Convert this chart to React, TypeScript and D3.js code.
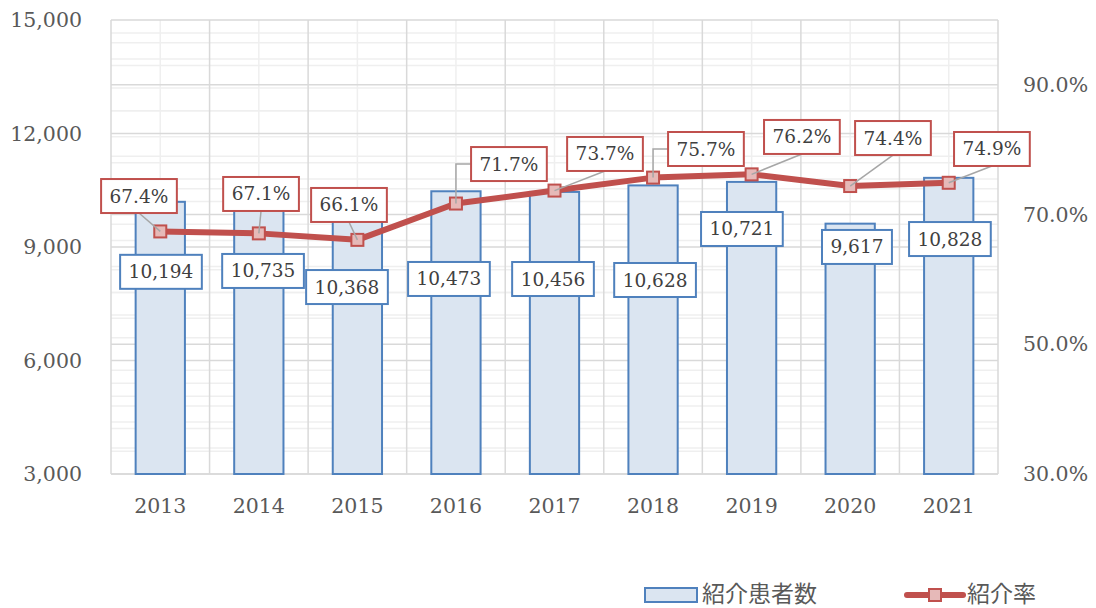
import React from "react";
import * as d3 from "d3";

const years = ["2013", "2014", "2015", "2016", "2017", "2018", "2019", "2020", "2021"];
const patients = [10194, 10735, 10368, 10473, 10456, 10628, 10721, 9617, 10828];
const rates = [67.4, 67.1, 66.1, 71.7, 73.7, 75.7, 76.2, 74.4, 74.9];
const leftTicks = [3000, 6000, 9000, 12000, 15000];
const rightTicks = [30, 50, 70, 90];
const seriesNames = ["紹介患者数", "紹介率"];

// manual label placement (pixel offsets from the mark), as in the original chart
const barLabelOffsets: [number, number][] = [
  [0.7, 70], [4.2, 89.6], [-10.4, 91.8], [-7, 87.7], [-1.5, 87.1], [2, 94.6], [-9.7, 47.1], [6.8, 23.3], [1.2, 61.2],
];
const rateLabelOffsets: [number, number][] = [
  [-21.3, -35.4], [2.2, -39.4], [-8.4, -34.9], [53, -39.5], [50.5, -36.6], [52.9, -28.6], [50.3, -37.4], [42.8, -48], [43.2, -33.8],
];
const rateLeaderElbow = [false, false, false, true, false, true, false, false, false];

const W = 1096, H = 608;
const L = 111, R = 998, T = 20, B = 474;
const SERIF = "'DejaVu Serif', serif";
const CJK = "'Noto Sans CJK JP', 'Noto Sans', sans-serif";
const BLUE = "#4f81bd", BLUE_FILL = "#dbe5f1", RED = "#c0504d", RED_FILL = "#e6b9b8";

const charW: Record<string, number> = { ",": 0.318, ".": 0.318, "%": 0.95 };
const textWidth = (s: string, size: number) =>
  s.split("").reduce((a, c) => a + (charW[c] ?? 0.636), 0) * size;

export default function App() {
  const x = d3.scaleBand<string>().domain(years).range([L, R]).paddingInner(0.5).paddingOuter(0.25);
  const step = x.step();
  const yL = d3.scaleLinear().domain([3000, 15000]).range([B, T]);
  const yR = d3.scaleLinear().domain([30, 100]).range([B, T]);
  const fmtN = d3.format(",");
  const fmtP = (v: number) => v.toFixed(1) + "%";

  const priMinor = d3.range(3000, 15001, 600).filter((v) => v % 3000 !== 0);
  const secMinor = d3.range(30, 100, 4).filter((v) => !rightTicks.includes(v));
  const catBounds = d3.range(0, years.length + 1).map((i) => L + i * step);
  const catCenters = years.map((yv) => (x(yv) as number) + x.bandwidth() / 2);

  const line = d3
    .line<number>()
    .x((_, i) => catCenters[i])
    .y((d) => yR(d));

  const labelFs = 18.5;
  const boxH = 34;
  const axisFs = 20.5;

  return (
    <svg width={W} height={H} style={{ position: "absolute", left: 0, top: 0, background: "#fff" }}>
      {/* minor grid */}
      <g stroke="#efefef" strokeWidth={1.5}>
        {priMinor.map((v) => (
          <line key={"pm" + v} x1={L} x2={R} y1={yL(v)} y2={yL(v)} />
        ))}
        {secMinor.map((v) => (
          <line key={"sm" + v} x1={L} x2={R} y1={yR(v)} y2={yR(v)} />
        ))}
        {catCenters.map((c, i) => (
          <line key={"vm" + i} x1={c} x2={c} y1={T} y2={B} />
        ))}
      </g>
      {/* major grid */}
      <g stroke="#d9d9d9" strokeWidth={1.5}>
        {leftTicks.map((v) => (
          <line key={"pM" + v} x1={L} x2={R} y1={yL(v)} y2={yL(v)} />
        ))}
        {rightTicks.map((v) => (
          <line key={"sM" + v} x1={L} x2={R} y1={yR(v)} y2={yR(v)} />
        ))}
        {catBounds.map((c, i) => (
          <line key={"vM" + i} x1={c} x2={c} y1={T} y2={B} />
        ))}
      </g>

      {/* bars */}
      <g>
        {patients.map((v, i) => (
          <rect
            key={"b" + i}
            x={x(years[i])}
            y={yL(v)}
            width={x.bandwidth()}
            height={B - yL(v)}
            fill={BLUE_FILL}
            stroke={BLUE}
            strokeWidth={2}
          />
        ))}
      </g>

      {/* rate line */}
      <path d={line(rates) || ""} fill="none" stroke={RED} strokeWidth={6} strokeLinejoin="round" />
      {rates.map((v, i) => (
        <rect
          key={"m" + i}
          x={catCenters[i] - 6}
          y={yR(v) - 6}
          width={12}
          height={12}
          fill={RED_FILL}
          stroke={RED}
          strokeWidth={2}
        />
      ))}

      {/* leader lines */}
      <g stroke="#a6a6a6" strokeWidth={1.5} fill="none">
        {rates.map((v, i) => {
          const px = catCenters[i], py = yR(v);
          const cx = px + rateLabelOffsets[i][0], cy = py + rateLabelOffsets[i][1];
          const w = textWidth(fmtP(v), labelFs) + 17;
          if (rateLeaderElbow[i]) {
            return <path key={"ld" + i} d={`M${px},${py}V${cy}H${cx - w / 2}`} />;
          }
          return <path key={"ld" + i} d={`M${px},${py}L${cx},${cy + boxH / 2}`} />;
        })}
      </g>

      {/* bar labels */}
      {patients.map((v, i) => {
        const cx = catCenters[i] + barLabelOffsets[i][0];
        const cy = yL(v) + barLabelOffsets[i][1];
        const s = fmtN(v);
        const w = textWidth(s, labelFs) + 17;
        return (
          <g key={"bl" + i}>
            <rect x={cx - w / 2} y={cy - boxH / 2} width={w} height={boxH} fill="#fff" stroke={BLUE} strokeWidth={2} />
            <text x={cx} y={cy} textAnchor="middle" dominantBaseline="central" fontFamily={SERIF} fontSize={labelFs} fill="#404040">
              {s}
            </text>
          </g>
        );
      })}

      {/* rate labels */}
      {rates.map((v, i) => {
        const cx = catCenters[i] + rateLabelOffsets[i][0];
        const cy = yR(v) + rateLabelOffsets[i][1];
        const s = fmtP(v);
        const w = textWidth(s, labelFs) + 17;
        return (
          <g key={"rl" + i}>
            <rect x={cx - w / 2} y={cy - boxH / 2} width={w} height={boxH} fill="#fff" stroke={RED} strokeWidth={2} />
            <text x={cx} y={cy} textAnchor="middle" dominantBaseline="central" fontFamily={SERIF} fontSize={labelFs} fill="#404040">
              {s}
            </text>
          </g>
        );
      })}

      {/* axes labels */}
      <g fontFamily={SERIF} fontSize={axisFs} fill="#595959">
        {leftTicks.map((v) => (
          <text key={"lt" + v} x={82} y={yL(v)} textAnchor="end" dominantBaseline="central">
            {fmtN(v)}
          </text>
        ))}
        {rightTicks.map((v) => (
          <text key={"rt" + v} x={1023} y={yR(v)} textAnchor="start" dominantBaseline="central">
            {v.toFixed(1) + "%"}
          </text>
        ))}
        {years.map((yv, i) => (
          <text key={"xt" + yv} x={catCenters[i]} y={506} textAnchor="middle" dominantBaseline="central">
            {yv}
          </text>
        ))}
      </g>

      {/* legend */}
      <g>
        <rect x={645} y={588} width={52} height={14} fill={BLUE_FILL} stroke={BLUE} strokeWidth={2} />
        <text x={702} y={602} fontFamily={CJK} fontSize={23} fill="#595959">
          {seriesNames[0]}
        </text>
        <line x1={907} x2={963} y1={595} y2={595} stroke={RED} strokeWidth={6} strokeLinecap="round" />
        <rect x={929} y={589} width={12} height={12} fill={RED_FILL} stroke={RED} strokeWidth={2} />
        <text x={967} y={602} fontFamily={CJK} fontSize={23} fill="#595959">
          {seriesNames[1]}
        </text>
      </g>
    </svg>
  );
}
